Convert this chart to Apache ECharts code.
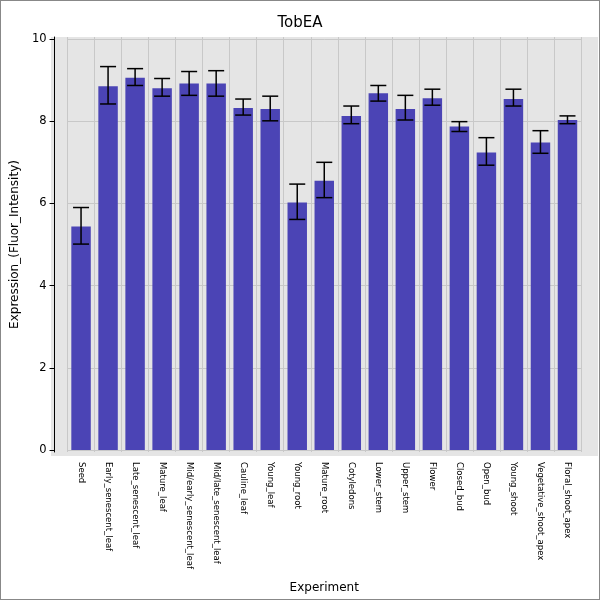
<!DOCTYPE html>
<html>
<head>
<meta charset="utf-8">
<script src="https://cdn.jsdelivr.net/npm/echarts@6/dist/echarts.min.js"></script>
<style>
    body { margin: 0; }
    #chart { width: 598px; height: 598px; border: 1px solid #888; background: #fff; }
</style>
</head>
<body>
<div id="chart"></div>
<script>
var categories = ['Seed', 'Early_senescent_leaf', 'Late_senescent_leaf', 'Mature_leaf', 'Mid/early_senescent_leaf',
    'Mid/late_senescent_leaf', 'Cauline_leaf', 'Young_leaf', 'Young_root', 'Mature_root', 'Cotyledons',
    'Lower_stem', 'Upper_stem', 'Flower', 'Closed_bud', 'Open_bud', 'Young_shoot', 'Vegetative_shoot_apex',
    'Floral_shoot_apex'];
var values = [5.44, 8.85, 9.06, 8.80, 8.92, 8.92, 8.32, 8.30, 6.02, 6.55, 8.13, 8.68, 8.30, 8.56, 7.87, 7.24, 8.54, 7.48, 8.03];
var errHigh = [5.90, 9.33, 9.28, 9.04, 9.21, 9.23, 8.54, 8.61, 6.47, 7.00, 8.37, 8.87, 8.63, 8.78, 7.99, 7.60, 8.78, 7.77, 8.13];
var errLow = [5.01, 8.42, 8.87, 8.61, 8.63, 8.61, 8.15, 8.01, 5.61, 6.14, 7.94, 8.49, 8.03, 8.39, 7.75, 6.93, 8.37, 7.22, 7.94];
var yTicks = [0, 2, 4, 6, 8, 10];

var errData = categories.map(function (c, i) { return [i, errLow[i], errHigh[i]]; });

var chart = echarts.init(document.getElementById('chart'));
chart.setOption({
    title: { text: 'TobEA', left: 'center', top: 10, textStyle: { fontWeight: 'normal', fontSize: 15, color: '#000', fontFamily: 'DejaVu Sans' } },
    // grey panel is wider than the category band
    graphic: [{ type: 'rect', z: -10, shape: { x: 50, y: 36, width: 547, height: 419 }, style: { fill: '#e5e5e5' } }],
    grid: { left: 63, right: 18, top: 36, bottom: 144, borderWidth: 0 },
    xAxis: {
        type: 'category', data: categories,
        name: 'Experiment', nameLocation: 'middle', nameGap: 130,
        nameTextStyle: { fontSize: 12, color: '#000', fontFamily: 'DejaVu Sans' },
        axisLine: { show: false }, axisTick: { show: false },
        axisLabel: { rotate: -90, interval: 0, fontSize: 8.5, color: '#000', fontFamily: 'DejaVu Sans', margin: 10 },
        splitLine: { show: true, interval: 0, lineStyle: { color: '#c8c8c8' } }
    },
    yAxis: {
        type: 'value', min: -0.05, max: 10.05, offset: 13,
        name: 'Expression_(Fluor_Intensity)', nameLocation: 'middle', nameGap: 30,
        nameTextStyle: { fontSize: 12, color: '#000', fontFamily: 'DejaVu Sans' },
        axisLine: { show: true, lineStyle: { color: '#000' } },
        axisLabel: { color: '#000', fontSize: 11.5, fontFamily: 'DejaVu Sans', customValues: yTicks },
        axisTick: { show: true, customValues: yTicks },
        splitLine: { show: true, lineStyle: { color: '#c8c8c8' } }
    },
    series: [{
        type: 'bar', data: values, barWidth: '72%',
        itemStyle: { color: '#4b44b5' }
    }, {
        type: 'custom', data: errData, z: 10,
        renderItem: function (params, api) {
            var lo = api.coord([api.value(0), api.value(1)]);
            var hi = api.coord([api.value(0), api.value(2)]);
            var w = 8;
            var st = { stroke: '#000', lineWidth: 1.5 };
            return { type: 'group', children: [
                { type: 'line', shape: { x1: hi[0], y1: hi[1], x2: lo[0], y2: lo[1] }, style: st },
                { type: 'line', shape: { x1: hi[0] - w, y1: hi[1], x2: hi[0] + w, y2: hi[1] }, style: st },
                { type: 'line', shape: { x1: lo[0] - w, y1: lo[1], x2: lo[0] + w, y2: lo[1] }, style: st }
            ] };
        }
    }]
});
</script>
</body>
</html>
